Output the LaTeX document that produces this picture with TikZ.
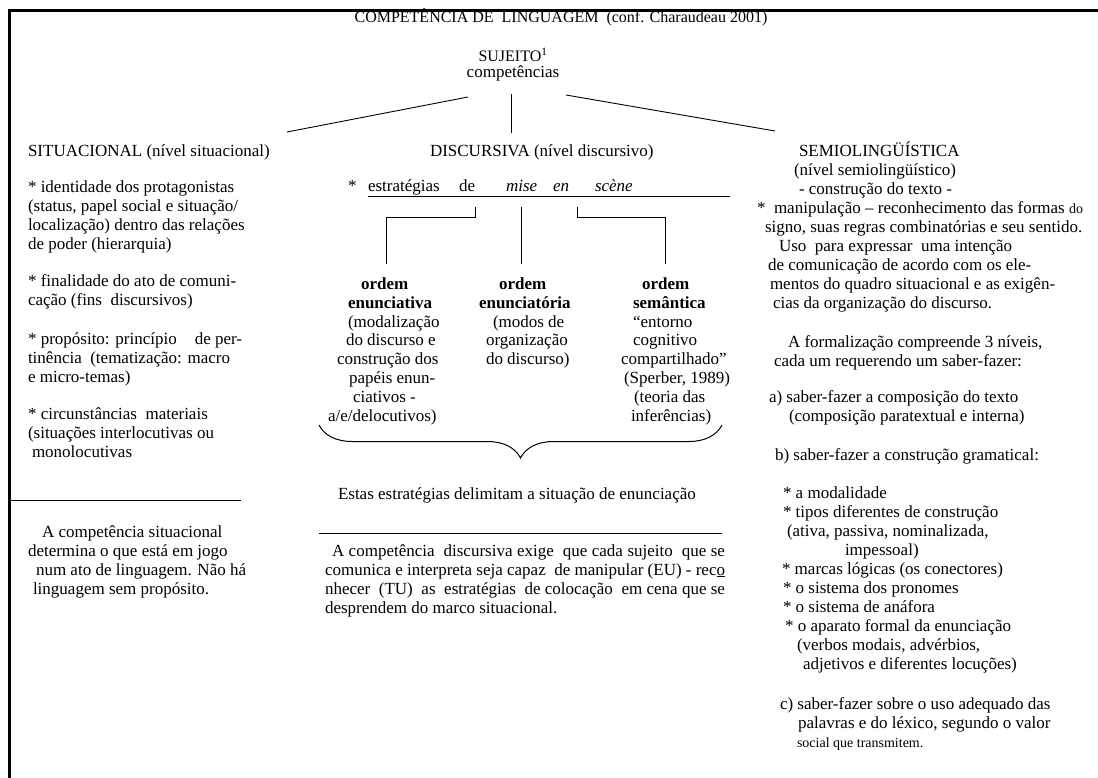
\documentclass[tikz,border=0pt]{standalone}
\usepackage{fontspec}
\setmainfont{Liberation Serif}
\usetikzlibrary{decorations.pathreplacing}

\begin{document}
\begin{tikzpicture}[x=1pt, y=-1pt,
  txt/.style={anchor=base west, inner sep=0pt, outer sep=0pt, font=\fontsize{17}{19}\selectfont},
  ctxt/.style={anchor=base, inner sep=0pt, outer sep=0pt},
  rule/.style={line width=0.9pt, line cap=butt},
  frameline/.style={line width=3pt},
]
\useasboundingbox (0,0) rectangle (1098,778);

% page frame (left and top edges)
\draw[frameline] (9.5,778) -- (9.5,10.5) -- (1098,10.5);

% title and root
\node[ctxt, font=\fontsize{16}{18}\selectfont] (title) at (561,23)
  {COMPETÊNCIA DE\ \ LINGUAGEM\ \ (conf. Charaudeau 2001)};
\node[ctxt, font=\fontsize{16}{18}\selectfont] (sujeito) at (513,62) {SUJEITO\textsuperscript{1}};
\node[ctxt, font=\fontsize{17}{19}\selectfont] (comp) at (513,78) {competências};

% branches from the root
\coordinate (sjL) at (468,97);
\coordinate (sjM) at (511,94);
\coordinate (sjR) at (566,95);
\coordinate (sitTop) at (287,132);
\coordinate (disTop) at (511,133);
\coordinate (semTop) at (775,131);
\draw[rule] (sjL) -- (sitTop);
\draw[rule] (sjM) -- (disTop);
\draw[rule] (sjR) -- (semTop);

% ---------------- situational column ----------------
\node[txt] (sithead) at (28,157) {SITUACIONAL (nível situacional)};
\node[txt] (sit1) at (28,193) {\parbox[t]{300pt}{%
* identidade dos protagonistas\\
(status, papel social e situação/\\
localização) dentro das relações\\
de poder (hierarquia)}};
\node[txt] (sit2) at (28,287) {\parbox[t]{300pt}{%
* finalidade do ato de comuni-\\
cação (fins\ \ discursivos)}};
\node[txt] (sit3) at (28,344) {\parbox[t]{300pt}{%
* propósito: princípio\hspace{18pt}de per-\\
tinência\ \ (tematização: macro\\
e micro-temas)}};
\node[txt] (sit4) at (28,419) {\parbox[t]{300pt}{%
* circunstâncias\ \ materiais\\
(situações interlocutivas ou\\
\hspace*{4pt}monolocutivas}};

\coordinate (sitRuleL) at (10,500.5);
\coordinate (sitRuleR) at (241,500.5);
\draw[rule] (sitRuleL) -- (sitRuleR);

\node[txt] (sitnote) at (28,537) {\parbox[t]{300pt}{%
\hspace*{14pt}A competência situacional\\
determina o que está em jogo\\
\hspace*{8pt}num ato de linguagem. Não há\\
\hspace*{5pt}linguagem sem propósito.}};

% ---------------- discursive column ----------------
\node[txt] (dishead) at (430,157) {DISCURSIVA (nível discursivo)};
\node[txt] (star) at (348,192) {*};
\node[txt] (w1) at (368,192) {estratégias};
\node[txt] (w2) at (459,192) {de};
\node[txt] (w3) at (506,192) {\itshape mise};
\node[txt] (w4) at (553,192) {\itshape en};
\node[txt] (w5) at (595,192) {\itshape scène};
\coordinate (ulL) at (368,196.5);
\coordinate (ulR) at (730,196.5);
\draw[rule] (ulL) -- (ulR);

% connectors from the strategies line to the three orders
\coordinate (c1a) at (475.5,207);
\coordinate (c1b) at (386,264);
\coordinate (c2a) at (521,207);
\coordinate (c2b) at (521,264);
\coordinate (c3a) at (577,207);
\coordinate (c3b) at (665.5,264);
\draw[rule] (c1a) -- ++(0,10.5) -| (c1b);
\draw[rule] (c2a) -- (c2b);
\draw[rule] (c3a) -- ++(0,10.5) -| (c3b);

\node[txt] (ord1) at (328,289) {\parbox[t]{200pt}{%
\hspace*{33pt}\textbf{ordem}\\
\hspace*{20pt}\textbf{enunciativa}\\
\hspace*{20pt}(modalização\\
\hspace*{18pt}do discurso e\\
\hspace*{9pt}construção dos\\
\hspace*{21pt}papéis enun-\\
\hspace*{25pt}ciativos -\\
a/e/delocutivos)}};
\node[txt] (ord2) at (479,289) {\parbox[t]{200pt}{%
\hspace*{20pt}\textbf{ordem}\\
\textbf{enunciatória}\\
\hspace*{14pt}(modos de\\
\hspace*{7pt}organização\\
\hspace*{7pt}do discurso)}};
\node[txt] (ord3) at (621,289) {\parbox[t]{200pt}{%
\hspace*{21pt}\textbf{ordem}\\
\hspace*{12pt}\textbf{semântica}\\
\hspace*{12pt}“entorno\\
\hspace*{12pt}cognitivo\\
compartilhado”\\
\hspace*{3pt}(Sperber, 1989)\\
\hspace*{13pt}(teoria das\\
\hspace*{10pt}inferências)}};

% brace gathering the three orders
\coordinate (brL) at (319,425);
\coordinate (brR) at (722,425);
\draw[line width=1pt, decorate, decoration={brace, mirror, amplitude=33pt}] (brL) -- (brR);

\node[txt] (delim) at (338,499) {Estas estratégias delimitam a situação de enunciação};

\coordinate (disRuleL) at (319,533);
\coordinate (disRuleR) at (722,533);
\draw[rule] (disRuleL) -- (disRuleR);

\node[txt] (disnote) at (325,556) {\parbox[t]{420pt}{%
\makebox[400pt][s]{\hspace*{7pt}A competência\ \ discursiva exige\ \ que cada sujeito\ \ que se}\\
\makebox[400pt][s]{comunica e interpreta seja capaz\ \ de manipular (EU) - rec\underline{o}}\\
\makebox[400pt][s]{nhecer\ \ (TU)\ \ as\ \ estratégias\ \ de colocação\ \ em cena que se}\\
desprendem do marco situacional.}};

% ---------------- semiolinguistic column ----------------
\node[txt] (semhead) at (757,157) {\parbox[t]{360pt}{%
\hspace*{42pt}SEMIOLINGÜÍSTICA\\
\hspace*{37pt}(nível semiolingüístico)\\
\hspace*{42pt}- construção do texto -\\
\relax *\ \ manipulação -- reconhecimento das formas {\fontsize{14}{19}\selectfont do}\\
\hspace*{8pt}signo, suas regras combinatórias e seu sentido.\\
\hspace*{22pt}Uso\ \ para expressar\ \ uma intenção\\
\hspace*{11pt}de comunicação de acordo com os ele-\\
\hspace*{13pt}mentos do quadro situacional e as exigên-\\
\hspace*{16pt}cias da organização do discurso.}};
\node[txt] (sem2) at (757,347) {\parbox[t]{360pt}{%
\hspace*{31pt}A formalização compreende 3 níveis,\\
\hspace*{17pt}cada um requerendo um saber-fazer:}};
\node[txt] (sem3) at (757,402) {\parbox[t]{360pt}{%
\hspace*{12pt}a) saber-fazer a composição do texto\\
\hspace*{32pt}(composição paratextual e interna)}};
\node[txt] (sem4) at (757,460) {\hspace*{18pt}b) saber-fazer a construção gramatical:};
\node[txt] (sem5) at (757,498) {\parbox[t]{360pt}{%
\hspace*{26pt}* a modalidade\\
\hspace*{26pt}* tipos diferentes de construção\\
\hspace*{30pt}(ativa, passiva, nominalizada,\\
\hspace*{88pt}impessoal)\\
\hspace*{25pt}* marcas lógicas (os conectores)\\
\hspace*{26pt}* o sistema dos pronomes\\
\hspace*{26pt}* o sistema de anáfora\\
\hspace*{28pt}* o aparato formal da enunciação\\
\hspace*{40pt}(verbos modais, advérbios,\\
\hspace*{46pt}adjetivos e diferentes locuções)}};
\node[txt] (sem6) at (757,709) {\parbox[t]{360pt}{%
\hspace*{23pt}c) saber-fazer sobre o uso adequado das\\
\hspace*{41pt}palavras e do léxico, segundo o valor\\
\hspace*{40pt}{\fontsize{14}{19}\selectfont social que transmitem.}}};
\end{tikzpicture}
\end{document}
